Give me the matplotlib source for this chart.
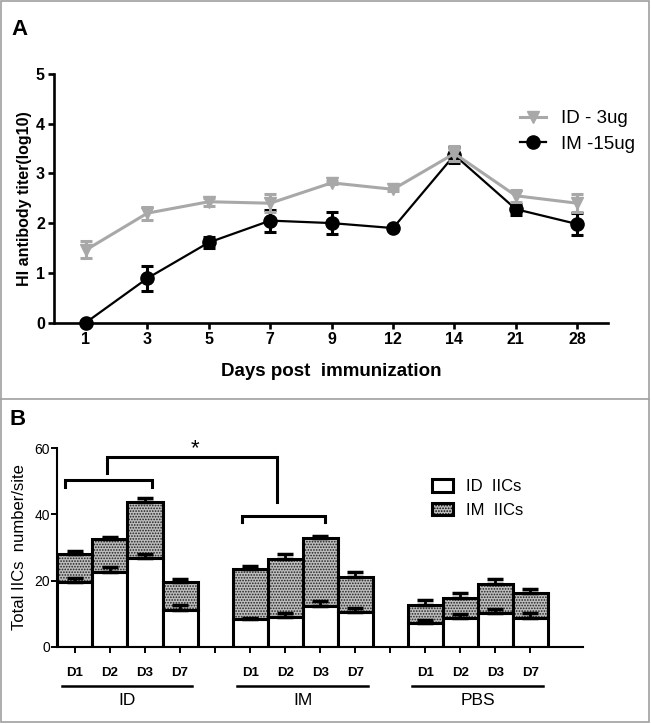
import matplotlib
matplotlib.use("Agg")
import matplotlib.pyplot as plt
import numpy as np
from matplotlib.patches import Patch, Rectangle
from matplotlib.lines import Line2D

plt.rcParams['font.family'] = ['Liberation Sans', 'DejaVu Sans']
plt.rcParams['hatch.linewidth'] = 0.8

# ---------------- Panel A data ----------------
days = ['1', '3', '5', '7', '9', '12', '14', '21', '28']
id_mean = [1.46, 2.20, 2.43, 2.40, 2.81, 2.68, 3.40, 2.55, 2.40]
id_err = [0.17, 0.13, 0.08, 0.18, 0.03, 0.03, 0.15, 0.12, 0.18]
im_mean = [0.00, 0.89, 1.61, 2.05, 2.00, 1.90, 3.37, 2.28, 1.98]
im_err = [0.00, 0.25, 0.12, 0.22, 0.22, 0.03, 0.17, 0.11, 0.22]

# ---------------- Panel B data ----------------
groups = ['ID', 'IM', 'PBS']
timepoints = ['D1', 'D2', 'D3', 'D7']
id_iics = {'ID': [19.7, 22.7, 26.7, 11.1],
           'IM': [8.4, 8.9, 12.4, 10.6],
           'PBS': [7.3, 8.6, 10.1, 8.6]}
id_iics_err = {'ID': [1.0, 1.4, 1.4, 1.5],
               'IM': [0.3, 1.2, 1.3, 1.2],
               'PBS': [0.8, 1.3, 1.2, 1.7]}
im_iics = {'ID': [8.3, 9.8, 17.2, 8.4],
           'IM': [15.0, 17.5, 20.6, 10.6],
           'PBS': [5.3, 6.2, 8.8, 7.5]}
total_err = {'ID': [1.0, 0.6, 1.0, 0.9],
             'IM': [1.1, 1.5, 0.6, 1.3],
             'PBS': [1.4, 1.3, 1.6, 1.2]}
# significance brackets: (x_left, x_right, y_top, y_left_end, y_right_end)
brackets = [(-0.28, 2.2, 50.4, 48.3, 48.3),
            (0.92, 5.76, 57.5, 52.5, 43.9),
            (4.76, 7.14, 39.5, 37.8, 37.8)]
star_label = '*'
star_pos = (3.43, 60.0)

W, H = 651, 724
fig = plt.figure(figsize=(W / 100, H / 100), dpi=100)

def fx(px):
    return px / W

def fy(py):
    return 1 - py / H

# ================= Panel A =================
axA = fig.add_axes([fx(54), fy(322.5), fx(608) - fx(54), fy(74) - fy(322.5)])
xa = np.arange(len(days))
gray = '#a8a8a8'
axA.errorbar(xa, im_mean, yerr=im_err, color='black', lw=1.6, marker='o', ms=9.5,
             capsize=4.5, capthick=2.2, elinewidth=2.2, clip_on=False, zorder=3)
axA.errorbar(xa, id_mean, yerr=id_err, color=gray, lw=2.2, marker='v', ms=8.5,
             capsize=4.5, capthick=2.2, elinewidth=2.2, clip_on=False, zorder=4)
axA.set_xlim(-0.52, 8.5)
axA.set_ylim(0, 5)
axA.set_xticks(xa)
axA.set_xticklabels(days, fontweight='bold', fontsize=11.5)
axA.set_yticks(range(0, 6))
axA.set_yticklabels([str(v) for v in range(0, 6)], fontweight='bold', fontsize=11.5)
for s in ['top', 'right']:
    axA.spines[s].set_visible(False)
for s in ['left', 'bottom']:
    axA.spines[s].set_linewidth(1.9)
axA.tick_params(axis='both', length=4.5, width=1.9, pad=2)
axA.set_ylabel('HI antibody titer(log10)', fontweight='bold', fontsize=11.5, labelpad=3)
axA.set_xlabel('Days post  immunization', fontweight='bold', fontsize=13.5, labelpad=12)
handlesA = [Line2D([], [], color=gray, lw=2.2, marker='v', ms=8.5, label='ID - 3ug'),
            Line2D([], [], color='black', lw=1.6, marker='o', ms=9.5, label='IM -15ug')]
axA.legend(handles=handlesA, loc='upper left', bbox_to_anchor=(fx(520), fy(110)),
           bbox_transform=fig.transFigure, frameon=False, fontsize=13.5,
           handlelength=1.4, handletextpad=0.8, borderpad=0, borderaxespad=0,
           labelspacing=0.45)

# ================= Panel B =================
axB = fig.add_axes([fx(56.7), fy(646.7), fx(583) - fx(56.7), fy(448.3) - fy(646.7)])
n_t = len(timepoints)
hatch_face = '#bdbdbd'
tick_pos, tick_lab = [], []
for gi, g in enumerate(groups):
    pos = np.arange(n_t) + gi * (n_t + 1)
    white = np.array(id_iics[g])
    im = np.array(im_iics[g])
    axB.bar(pos, white, width=1.0, facecolor='white', edgecolor='black', lw=2.2, zorder=2)
    axB.bar(pos, im, bottom=white, width=1.0, facecolor=hatch_face, edgecolor='#202020',
            lw=0, hatch='......', zorder=2)
    axB.bar(pos, im, bottom=white, width=1.0, fill=False, edgecolor='black', lw=2.2, zorder=3)
    axB.errorbar(pos, white, yerr=[np.zeros(n_t), id_iics_err[g]], fmt='none', ecolor='black',
                 elinewidth=2, capsize=6, capthick=2.5, zorder=4)
    axB.errorbar(pos, white + im, yerr=[np.zeros(n_t), total_err[g]], fmt='none', ecolor='black',
                 elinewidth=2, capsize=6, capthick=2.5, zorder=4)
    tick_pos += list(pos) + [pos[-1] + 1]
    tick_lab += timepoints + ['']
    axB.plot([pos[0] - 0.38, pos[-1] + 0.35], [-0.198, -0.198], color='black', lw=1.8,
             transform=axB.get_xaxis_transform(), clip_on=False)
    axB.text((pos[0] + pos[-1]) / 2, -0.27, g, transform=axB.get_xaxis_transform(),
             ha='center', va='center', fontsize=12.5)
tick_pos = tick_pos[:-1]
tick_lab = tick_lab[:-1]
axB.set_xticks(tick_pos)
axB.set_xticklabels(tick_lab, fontweight='bold', fontsize=9.5)
axB.set_xlim(-0.52, 14.5)
axB.set_ylim(0, 60)
axB.set_yticks([0, 20, 40, 60])
axB.tick_params(axis='y', length=4, width=1.4, pad=1, labelsize=10)
axB.tick_params(axis='x', length=4.5, width=1.4, pad=10)
for s in ['top', 'right']:
    axB.spines[s].set_visible(False)
for s in ['left', 'bottom']:
    axB.spines[s].set_linewidth(1.5)
axB.set_ylabel('Total IICs  number/site', fontsize=12, labelpad=5)

for (x0, x1, yt, yl, yr) in brackets:
    axB.plot([x0, x0, x1, x1], [yl, yt, yt, yr], color='black', lw=2.2, clip_on=False,
             solid_joinstyle='miter', zorder=5)
axB.text(star_pos[0], star_pos[1], star_label, ha='center', va='center', fontsize=16)

handlesB = [Patch(facecolor='white', edgecolor='black', lw=2.2, label='ID  IICs'),
            Patch(facecolor=hatch_face, edgecolor='black', lw=2.2, hatch='......', label='IM  IICs')]
axB.legend(handles=handlesB, loc='upper left', bbox_to_anchor=(fx(431.5), fy(479)),
           bbox_transform=fig.transFigure, frameon=False, fontsize=12,
           handlelength=1.3, handleheight=0.8, handletextpad=0.8, borderpad=0,
           borderaxespad=0, labelspacing=0.5)

# ================= Panel letters & frame =================
fig.text(fx(20), fy(29.5), 'A', fontsize=16, fontweight='bold', ha='center', va='center')
fig.text(fx(18), fy(419.5), 'B', fontsize=16, fontweight='bold', ha='center', va='center')
fig.add_artist(Rectangle((fx(1), fy(722)), fx(649) - fx(1), fy(1) - fy(722), fill=False,
                         edgecolor='#a0a0a0', lw=1.2, transform=fig.transFigure))
fig.add_artist(Line2D([fx(1), fx(649)], [fy(399.3), fy(399.3)], color='#a0a0a0', lw=1.2,
                      transform=fig.transFigure))

fig.savefig('out.png', dpi=100)
